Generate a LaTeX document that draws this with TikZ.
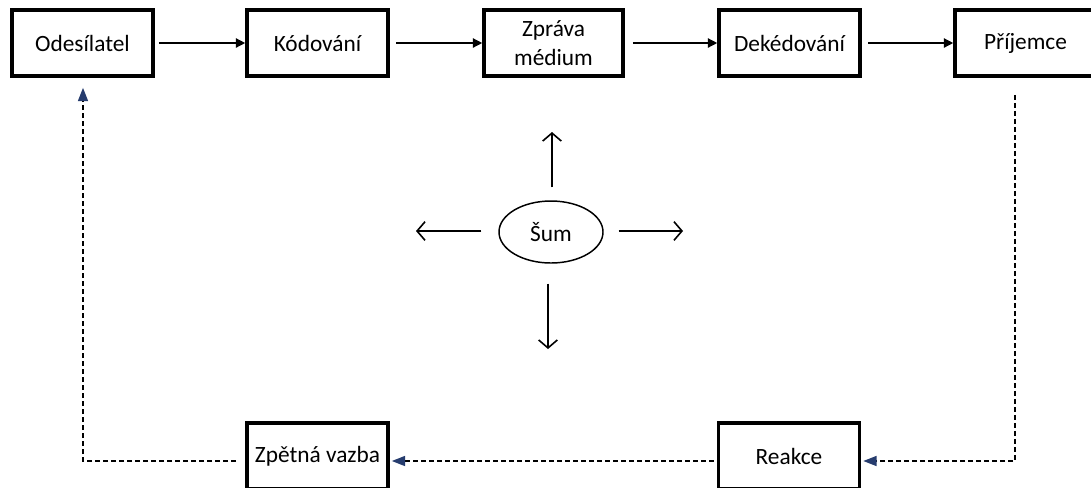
\documentclass[tikz,border=0pt]{standalone}
\usepackage{fontspec}
\setmainfont{Carlito}
\usetikzlibrary{arrows.meta,shapes.geometric}
\definecolor{fbblue}{RGB}{38,60,110}
\begin{document}
\begin{tikzpicture}[x=0.75pt,y=-0.75pt,
  box/.style={draw, line width=2.7pt, minimum width=105.75pt, minimum height=49.5pt,
    inner sep=0pt, align=center, font=\fontsize{17.5}{21.5}\selectfont},
  flow/.style={line width=1pt, -{Triangle[length=7pt,width=7pt]}},
  noise/.style={line width=1.2pt, -{Straight Barb[length=6pt,width=14pt]}},
  fb/.style={line width=1.2pt, dash pattern=on 3.6pt off 2.4pt,
    -{Triangle[length=10pt,width=7.5pt,color=fbblue]}}]
\useasboundingbox (0,0) rectangle (1091,487);
\clip (0,0) rectangle (1091,487);
\fill[white] (0,0) rectangle (1091,487);

\node[box] (ode) at (82.5,43) {Odesílatel};
\node[box] (kod) at (317.5,43) {Kódování};
\node[box, minimum width=104.25pt] (zpr) at (553.5,43) {Zpráva\\médium};
\node[box] (dek) at (789.5,43) {Dekédování};
\node[box] (pri) at (1025.5,43) {Příjemce};
\node[box] (zpv) at (317.5,456) {Zpětná vazba};
\node[box] (rea) at (789,456) {Reakce};
\node[draw, ellipse, line width=1.1pt, minimum width=78pt, minimum height=46.5pt,
  inner sep=0pt, font=\fontsize{17.5}{21.5}\selectfont] (sum) at (551,232) {Šum};

\draw[flow] ([xshift=3pt]ode.east) -- (kod.west);
\draw[flow] ([xshift=5pt]kod.east) -- (zpr.west);
\draw[flow] ([xshift=6pt]zpr.east) -- (dek.west);
\draw[flow] ([xshift=5pt]dek.east) -- (pri.west);

\coordinate (nup) at (552,132);
\coordinate (nleft) at (416,231);
\coordinate (nright) at (683,231);
\coordinate (ndown) at (548,349);
\draw[noise] ([shift={(1,-13)}]sum.north) -- (nup);
\draw[noise] ([shift={(-17,-1)}]sum.west) -- (nleft);
\draw[noise] ([shift={(15,-1)}]sum.east) -- (nright);
\draw[noise] ([shift={(-3,20)}]sum.south) -- (ndown);

\coordinate (c1) at (1015,461);
\coordinate (c2) at (83,461);
\draw[fb] ([shift={(-10.5,17)}]pri.south) -- (c1) -- ([shift={(2,5)}]rea.east);
\draw[fb] ([shift={(-3,5)}]rea.west) -- ([shift={(2,5)}]zpv.east);
\draw[fb] ([shift={(-9,5)}]zpv.west) -- (c2) -- ([shift={(0.5,10)}]ode.south);
\end{tikzpicture}
\end{document}
